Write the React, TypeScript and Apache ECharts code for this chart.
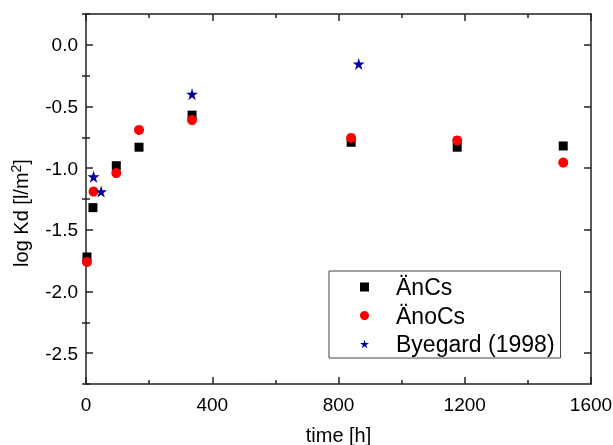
import React, { useEffect, useRef } from "react";
import * as echarts from "echarts";

const anCsTime = [3, 22, 96, 168, 336, 840, 1176, 1512];
const anCsLogKd = [-1.72, -1.32, -0.98, -0.83, -0.57, -0.79, -0.83, -0.82];
const anoCsTime = [3, 24, 96, 168, 336, 840, 1176, 1512];
const anoCsLogKd = [-1.76, -1.19, -1.04, -0.69, -0.61, -0.755, -0.775, -0.955];
const byegardTime = [24, 48, 336, 864];
const byegardLogKd = [-1.07, -1.19, -0.4, -0.155];

const seriesNames = ["ÄnCs", "ÄnoCs", "Byegard (1998)"];
const yMajorTicks = [0, -0.5, -1, -1.5, -2, -2.5];
const yMinorTicks = [0.25, -0.25, -0.75, -1.25, -1.75, -2.25, -2.75];

const FONT = '"Liberation Sans", Arial, sans-serif';
const STAR = "path://M50,0 L61.2,34.5 L97.6,34.5 L68.2,55.9 L79.4,90.5 L50,69.1 L20.6,90.5 L31.8,55.9 L2.4,34.5 L38.8,34.5 Z";
const AXIS_COLOR = "#222";

const zip = (xs: number[], ys: number[]) => xs.map((x, i) => [x, ys[i]]);

export default function App() {
  const ref = useRef<HTMLDivElement>(null);
  useEffect(() => {
    if (!ref.current) return;
    const chart = echarts.init(ref.current, undefined, { renderer: "svg" });
    const yBase = {
      type: "value" as const,
      min: -2.75,
      max: 0.25,
      splitLine: { show: false },
    };
    const xBase = {
      type: "value" as const,
      min: 0,
      max: 1600,
      interval: 400,
      splitLine: { show: false },
      minorSplitLine: { show: false },
    };
    const lineStyle = { color: AXIS_COLOR, width: 1.5 };
    chart.setOption({
      animation: false,
      textStyle: { fontFamily: FONT },
      grid: { left: 86, right: 22, top: 14, bottom: 61, containLabel: false, outerBoundsMode: "none" },
      xAxis: [
        {
          ...xBase,
          position: "bottom",
          name: "time [h]",
          nameLocation: "middle",
          nameGap: 41,
          nameTextStyle: { fontSize: 20, color: "#000", fontFamily: FONT },
          axisLine: { show: true, onZero: false, lineStyle },
          axisTick: { show: true, inside: true, length: 7, lineStyle },
          minorTick: { show: true, splitNumber: 2, length: 4, lineStyle },
          axisLabel: {
            fontSize: 19,
            color: "#000",
            margin: 11,
            fontFamily: FONT,
            formatter: (v: number) => String(v),
          },
        },
        {
          ...xBase,
          position: "top",
          axisLine: { show: true, onZero: false, lineStyle },
          axisTick: { show: true, inside: true, length: 7, lineStyle },
          minorTick: { show: true, splitNumber: 2, length: 4, lineStyle },
          axisLabel: { show: false },
        },
      ],
      yAxis: [
        {
          ...yBase,
          position: "left",
          axisLine: { show: true, onZero: false, lineStyle },
          axisTick: { show: true, inside: true, length: 7, customValues: yMajorTicks, lineStyle },
          axisLabel: {
            fontSize: 19,
            color: "#000",
            margin: 8,
            fontFamily: FONT,
            customValues: yMajorTicks,
            formatter: (v: number) => v.toFixed(1),
          },
        },
        {
          ...yBase,
          position: "left",
          axisLine: { show: false },
          axisTick: { show: true, inside: true, length: 4, customValues: yMinorTicks, lineStyle },
          axisLabel: { show: false },
        },
        {
          ...yBase,
          position: "right",
          axisLine: { show: true, onZero: false, lineStyle },
          axisTick: { show: true, inside: true, length: 7, customValues: yMajorTicks, lineStyle },
          axisLabel: { show: false },
        },
        {
          ...yBase,
          position: "right",
          axisLine: { show: false },
          axisTick: { show: true, inside: true, length: 4, customValues: yMinorTicks, lineStyle },
          axisLabel: { show: false },
        },
      ],
      legend: {
        show: true,
        orient: "vertical",
        left: 329,
        top: 271,
        borderColor: "#444",
        borderWidth: 1,
        padding: [3, 6, 1, 31],
        itemWidth: 9,
        itemHeight: 9,
        itemGap: 2.5,
        textStyle: { fontSize: 23, lineHeight: 26, color: "#000", fontFamily: FONT, padding: [0, 0, 0, 22] },
        data: [
          { name: seriesNames[0], icon: "rect", itemStyle: { opacity: 1 } },
          { name: seriesNames[1], icon: "circle", itemStyle: { opacity: 1 } },
          { name: seriesNames[2], icon: STAR, itemStyle: { opacity: 1 } },
        ],
      },
      graphic: [
        {
          type: "text",
          x: 21,
          y: 213,
          rotation: Math.PI / 2,
          style: {
            text: "{a|log Kd [l/m}{s|2}{a|]}",
            align: "center",
            verticalAlign: "middle",
            rich: {
              a: { fontSize: 20, fontFamily: FONT, fill: "#000", color: "#000" },
              s: { fontSize: 14, fontFamily: FONT, fill: "#000", color: "#000", padding: [0, 0, 10, 0] },
            },
          },
        },
      ],
      series: [
        {
          name: seriesNames[0],
          type: "scatter",
          xAxisIndex: 0,
          yAxisIndex: 0,
          symbol: "rect",
          symbolSize: 9,
          itemStyle: { color: "#000", opacity: 1 },
          data: zip(anCsTime, anCsLogKd),
        },
        {
          name: seriesNames[1],
          type: "scatter",
          xAxisIndex: 0,
          yAxisIndex: 0,
          symbol: "circle",
          symbolSize: 10,
          itemStyle: { color: "#ff0000", opacity: 1 },
          data: zip(anoCsTime, anoCsLogKd),
        },
        {
          name: seriesNames[2],
          type: "scatter",
          xAxisIndex: 0,
          yAxisIndex: 0,
          symbol: STAR,
          symbolSize: 12,
          itemStyle: { color: "#00009c", opacity: 1 },
          data: zip(byegardTime, byegardLogKd),
        },
      ],
    });
    return () => chart.dispose();
  }, []);
  return <div ref={ref} style={{ position: "fixed", left: 0, top: 0, width: 613, height: 445 }} />;
}
